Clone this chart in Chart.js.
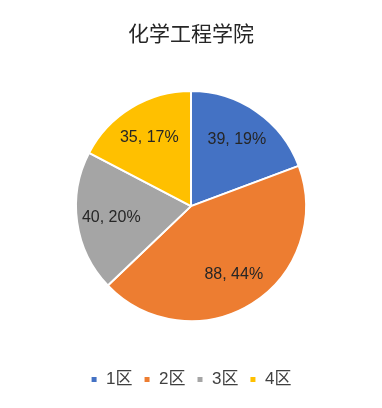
<!DOCTYPE html>
<html>
<head>
<meta charset="utf-8">
<script src="https://cdn.jsdelivr.net/npm/chart.js@4/dist/chart.umd.min.js"></script>
<style>
  html, body { margin: 0; padding: 0; background: #fff; }
  #wrap { width: 382px; height: 408px; }
</style>
</head>
<body>
<div id="wrap"><canvas id="chart"></canvas></div>
<script>
const title = "化学工程学院";
const categories = ["1区", "2区", "3区", "4区"];
const counts = [39, 88, 40, 35];
const colors = ["#4472C4", "#ED7D31", "#A5A5A5", "#FFC000"];

const FONT = "'Liberation Sans', 'Noto Sans CJK SC', sans-serif";

// value + percent labels inside each slice
const sliceLabels = {
  id: "sliceLabels",
  afterDatasetsDraw(chart) {
    const ctx = chart.ctx;
    const total = counts.reduce((a, b) => a + b, 0);
    const arcs = chart.getDatasetMeta(0).data;
    ctx.save();
    ctx.font = "16px " + FONT;
    ctx.fillStyle = "#262626";
    ctx.textAlign = "center";
    ctx.textBaseline = "middle";
    arcs.forEach((arc, i) => {
      const p = arc.getProps(["x", "y", "startAngle", "endAngle", "outerRadius"], true);
      const mid = (p.startAngle + p.endAngle) / 2;
      const r = p.outerRadius * 0.7;
      const pct = Math.round(counts[i] / total * 100);
      ctx.fillText(counts[i] + ", " + pct + "%", p.x + Math.cos(mid) * r, p.y + Math.sin(mid) * r);
    });
    ctx.restore();
  }
};

new Chart(document.getElementById("chart"), {
  type: "pie",
  data: {
    labels: categories,
    datasets: [{
      data: counts,
      backgroundColor: colors,
      borderColor: "#ffffff",
      borderWidth: 2,
      radius: 115
    }]
  },
  options: {
    responsive: true,
    maintainAspectRatio: false,
    animation: false,
    layout: { padding: { top: 0, bottom: 10, left: 0, right: 0 } },
    plugins: {
      title: {
        display: true,
        text: title,
        color: "#262626",
        font: { family: "'Noto Sans CJK SC', sans-serif", size: 21, weight: "normal" },
        padding: { top: 20, bottom: 7 }
      },
      legend: {
        position: "bottom",
        labels: {
          usePointStyle: true,
          pointStyle: "rect",
          boxWidth: 7,
          boxHeight: 7,
          padding: 11,
          color: "#404040",
          font: { family: FONT, size: 17 }
        }
      },
      tooltip: { enabled: false }
    }
  },
  plugins: [sliceLabels]
});
</script>
</body>
</html>
